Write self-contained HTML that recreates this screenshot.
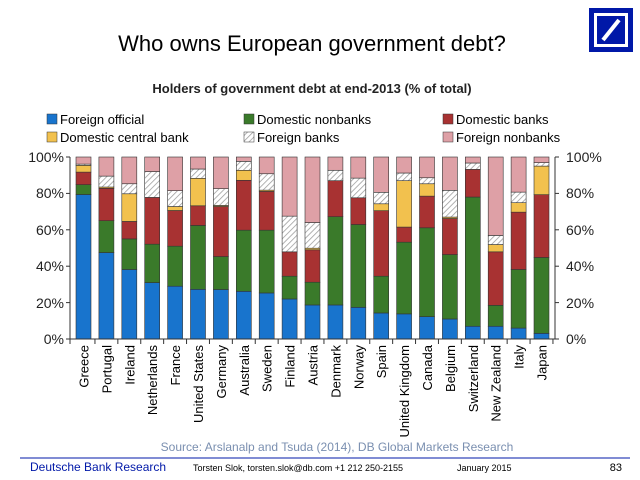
<!DOCTYPE html>
<html><head><meta charset="utf-8"><style>
body{margin:0;background:#fff;}
svg{display:block;font-family:"Liberation Sans",Arial,sans-serif;}
</style></head><body>
<svg width="640" height="480" viewBox="0 0 640 480">
<defs><pattern id="h" width="4" height="4" patternUnits="userSpaceOnUse" patternTransform="rotate(45)"><rect width="4" height="4" fill="#fff"/><line x1="0" y1="0" x2="0" y2="4" stroke="#999" stroke-width="1.5"/></pattern></defs>
<rect x="589" y="8" width="44" height="44" fill="#0018a8"/>
<rect x="594" y="13" width="34" height="34" fill="#fff"/>
<rect x="597" y="16" width="28" height="28" fill="#0018a8"/>
<line x1="603" y1="40" x2="619" y2="20" stroke="#fff" stroke-width="4"/>
<text x="312" y="51" font-size="22" text-anchor="middle" fill="#000">Who owns European government debt?</text>
<text x="312" y="93" font-size="13" font-weight="bold" text-anchor="middle" fill="#222">Holders of government debt at end-2013 (% of total)</text>
<g font-size="13" fill="#000">
<rect x="47" y="114" width="10" height="10" fill="#1874cd" stroke="#333" stroke-width=".5"/><text x="60" y="124">Foreign official</text>
<rect x="244" y="114" width="10" height="10" fill="#3a7a2a" stroke="#333" stroke-width=".5"/><text x="257" y="124">Domestic nonbanks</text>
<rect x="443" y="114" width="10" height="10" fill="#a83232" stroke="#333" stroke-width=".5"/><text x="456" y="124">Domestic banks</text>
<rect x="47" y="132" width="10" height="10" fill="#f2c14e" stroke="#333" stroke-width=".5"/><text x="60" y="142">Domestic central bank</text>
<rect x="244" y="132" width="10" height="10" fill="url(#h)" stroke="#333" stroke-width=".5"/><text x="257" y="142">Foreign banks</text>
<rect x="443" y="132" width="10" height="10" fill="#dea0a6" stroke="#333" stroke-width=".5"/><text x="456" y="142">Foreign nonbanks</text>
</g>
<g font-size="14" fill="#222">
<text x="64" y="162" text-anchor="end">100%</text><text x="64" y="198" text-anchor="end">80%</text><text x="64" y="235" text-anchor="end">60%</text><text x="64" y="271" text-anchor="end">40%</text><text x="64" y="308" text-anchor="end">20%</text><text x="64" y="344" text-anchor="end">0%</text>
<text x="566" y="162">100%</text><text x="566" y="198">80%</text><text x="566" y="235">60%</text><text x="566" y="271">40%</text><text x="566" y="308">20%</text><text x="566" y="344">0%</text>
</g>
<g stroke="#333" stroke-width="1">
<line x1="70" y1="157" x2="70" y2="339"/><line x1="555" y1="157" x2="555" y2="339"/>
<line x1="66" y1="157" x2="70" y2="157"/><line x1="66" y1="193.4" x2="70" y2="193.4"/><line x1="66" y1="229.8" x2="70" y2="229.8"/><line x1="66" y1="266.2" x2="70" y2="266.2"/><line x1="66" y1="302.6" x2="70" y2="302.6"/>
<line x1="555" y1="157" x2="559" y2="157"/><line x1="555" y1="193.4" x2="559" y2="193.4"/><line x1="555" y1="229.8" x2="559" y2="229.8"/><line x1="555" y1="266.2" x2="559" y2="266.2"/><line x1="555" y1="302.6" x2="559" y2="302.6"/>
</g>
<g id="bars"></g>
<line x1="66" y1="339" x2="559" y2="339" stroke="#333"/>
<g id="xt"></g>
<text x="337" y="451" font-size="12" text-anchor="middle" fill="#7a8fb0">Source: Arslanalp and Tsuda (2014), DB Global Markets Research</text>
<line x1="20" y1="458" x2="630" y2="458" stroke="#0018a8" stroke-width="1"/>
<text x="30" y="471" font-size="12" fill="#0018a8">Deutsche Bank Research</text>
<text x="193" y="471" font-size="9" fill="#000">Torsten Slok, torsten.slok@db.com  +1 212 250-2155</text>
<text x="457" y="471" font-size="9" fill="#000">January 2015</text>
<text x="622" y="471" font-size="11" text-anchor="end" fill="#000">83</text>
<script>
var d=[["Greece",79.4,84.8,91.7,95.4,96.1],["Portugal",47.5,65,82.8,83.5,89.5],["Ireland",38.2,55,64.6,79.8,85.3],["Netherlands",31,52.1,77.8,77.8,92],["France",29,51,70.6,72.8,81.5],["United States",27.3,62.4,73.2,88.3,93.4],["Germany",27.2,45.3,72.8,73.4,82.6],["Australia",26.2,59.8,87.2,92.7,97.6],["Sweden",25.3,59.8,81.1,81.8,90.8],["Finland",22,34.5,47.9,47.9,67.5],["Austria",18.7,31.2,49,49.9,64],["Denmark",18.7,67.2,87,87,92.7],["Norway",17.4,62.9,77.6,77.6,88.4],["Spain",14.3,34.5,70.5,74.3,80.6],["United Kingdom",13.8,53.2,61.5,87,91.2],["Canada",12.3,61.1,78.5,85.3,88.6],["Belgium",11,46.4,66.2,67,81.7],["Switzerland",7,78,93.2,93.2,96.7],["New Zealand",7,18.5,47.9,51.9,56.9],["Italy",6,38.2,69.7,74.9,80.7],["Japan",3.1,44.8,79.3,95,96.9]];
d.splice(8,0);
var cols=["#1874cd","#3a7a2a","#a83232","#f2c14e","url(#h)","#dea0a6"];
var ns="http://www.w3.org/2000/svg",g=document.getElementById("bars"),xt=document.getElementById("xt");
function y(v){return 339-v*1.82;}
function el(t,a,p){var e=document.createElementNS(ns,t);for(var k in a)e.setAttribute(k,a[k]);p.appendChild(e);return e;}
var n=d.length,step=(541.5-83.5)/(n-1);
d.forEach(function(r,i){var cx=83.5+i*step,x=cx-7.5;var c=[0,r[1],r[2],r[3],r[4],r[5],100];
for(var j=0;j<6;j++){var h=(c[j+1]-c[j])*1.82;if(h<=0)continue;el("rect",{x:x,y:y(c[j+1]),width:15,height:h,fill:cols[j],stroke:"#333","stroke-width":0.6},g);}
el("line",{x1:cx+step/2,y1:339,x2:cx+step/2,y2:344,stroke:"#333"},xt);
var t=el("text",{x:0,y:0,"font-size":13,"text-anchor":"end",transform:"translate("+(cx+5)+",345) rotate(-90)",fill:"#000"},xt);t.textContent=r[0];});
el("line",{x1:70,y1:339,x2:70,y2:344,stroke:"#333"},xt);
</script>
</svg>
</body></html>
